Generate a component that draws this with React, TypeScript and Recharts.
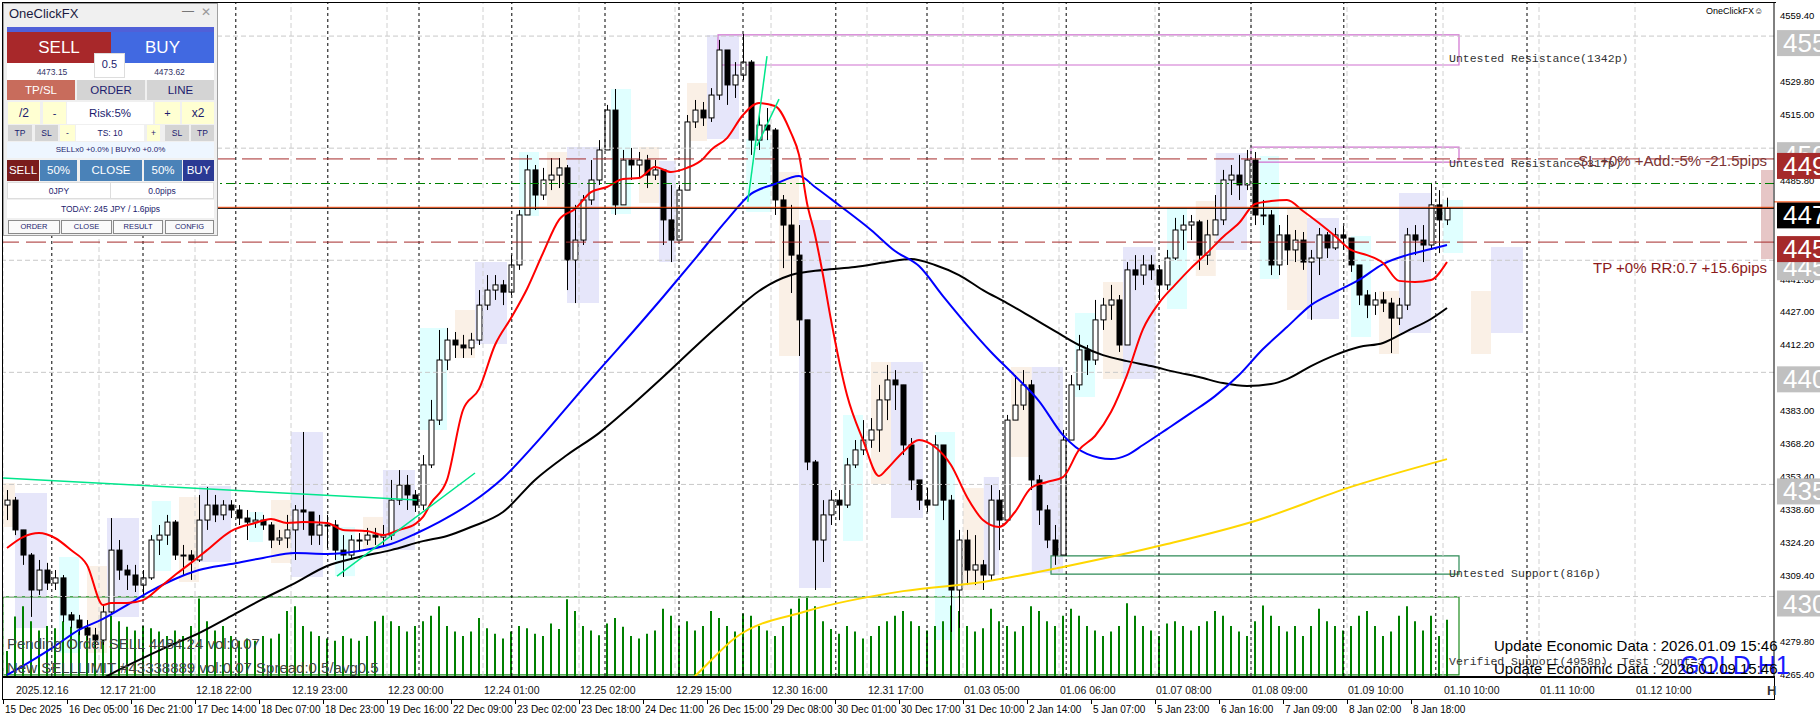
import React from "react";
import {
  ComposedChart,
  Bar,
  Line,
  XAxis,
  YAxis,
  ReferenceLine,
  ReferenceArea,
} from "recharts";

const FONT = "'Liberation Sans', Arial, sans-serif";
const MONO = "'Liberation Mono', 'Courier New', monospace";

// GOLD H1, one slot here = 2 hours. open of a slot = close of the one before
const firstOpen = 4340.8;
const closes = [
  4343.0, 4329.7, 4318.5, 4302.9, 4311.8, 4306.0, 4308.3, 4291.8, 4289.5, 4286.0,
  4282.8, 4280.6, 4293.1, 4320.7, 4311.8, 4309.6, 4305.1, 4308.3, 4325.2, 4327.4,
  4333.2, 4318.5, 4318.5, 4316.3, 4334.1, 4340.8, 4336.4, 4340.8, 4338.6, 4335.0,
  4333.2, 4334.1, 4331.9, 4325.2, 4326.1, 4329.7, 4338.6, 4337.7, 4327.4, 4331.9,
  4331.9, 4320.7, 4318.5, 4325.2, 4325.2, 4327.4, 4326.5, 4327.4, 4343.0, 4349.7,
  4345.3, 4340.8, 4358.7, 4378.7, 4405.5, 4414.4, 4412.2, 4410.9, 4414.4, 4430.0,
  4436.7, 4439.0, 4435.8, 4447.9, 4470.2, 4490.3, 4479.1, 4485.8, 4488.0, 4491.2,
  4450.1, 4459.0, 4476.9, 4485.8, 4499.2, 4517.0, 4474.7, 4494.7, 4492.5, 4494.7,
  4488.0, 4490.3, 4468.0, 4459.0, 4481.3, 4511.7, 4517.0, 4513.5, 4523.7, 4543.8,
  4528.2, 4532.6, 4538.4, 4503.6, 4510.3, 4508.1, 4476.9, 4465.7, 4452.3, 4423.4,
  4360.0, 4325.2, 4336.4, 4343.0, 4340.8, 4358.7, 4365.4, 4369.8, 4374.3, 4387.7,
  4396.6, 4394.4, 4367.6, 4352.0, 4343.0, 4340.8, 4367.6, 4343.0, 4302.9, 4325.2,
  4311.8, 4314.1, 4309.6, 4343.0, 4334.1, 4378.7, 4385.4, 4394.4, 4352.0, 4338.6,
  4325.2, 4318.5, 4369.8, 4394.4, 4410.0, 4405.5, 4423.4, 4430.0, 4432.3, 4412.2,
  4445.7, 4443.4, 4447.9, 4445.7, 4439.0, 4451.0, 4463.5, 4465.7, 4467.1, 4452.3,
  4461.3, 4468.0, 4485.8, 4488.0, 4483.6, 4494.7, 4470.2, 4470.2, 4447.9, 4461.3,
  4454.6, 4459.0, 4449.2, 4451.0, 4461.3, 4455.5, 4461.3, 4459.9, 4447.9, 4434.5,
  4430.0, 4432.3, 4430.9, 4424.2, 4430.0, 4461.3, 4459.0, 4456.8, 4474.7, 4468.0,
  4473.2,
];
const highs = [
  4347.5, 4344.4, 4327.4, 4319.4, 4316.3, 4315.0, 4311.8, 4309.6, 4293.1, 4291.8,
  4289.5, 4286.0, 4296.2, 4335.0, 4325.2, 4314.1, 4314.1, 4311.8, 4327.4, 4331.9,
  4336.4, 4334.1, 4323.0, 4320.7, 4345.3, 4348.9, 4345.3, 4343.0, 4343.0, 4340.8,
  4338.6, 4337.7, 4336.4, 4333.2, 4329.7, 4336.4, 4340.8, 4373.4, 4336.4, 4336.4,
  4336.4, 4334.1, 4327.4, 4327.4, 4328.3, 4330.6, 4330.6, 4331.9, 4352.0, 4356.4,
  4354.2, 4347.5, 4363.1, 4387.7, 4418.9, 4419.8, 4418.0, 4416.7, 4417.6, 4436.7,
  4443.4, 4443.4, 4441.2, 4452.3, 4472.4, 4497.0, 4492.5, 4491.2, 4495.6, 4495.6,
  4492.5, 4474.7, 4479.1, 4494.7, 4503.6, 4519.3, 4526.4, 4499.2, 4500.1, 4498.3,
  4497.0, 4494.7, 4490.3, 4483.6, 4483.6, 4514.8, 4521.5, 4520.6, 4526.8, 4548.3,
  4540.2, 4538.4, 4550.9, 4539.3, 4516.1, 4517.9, 4509.0, 4479.1, 4474.7, 4465.7,
  4423.4, 4360.9, 4343.0, 4347.5, 4347.5, 4361.8, 4369.8, 4378.7, 4379.6, 4394.4,
  4403.3, 4401.0, 4394.4, 4370.7, 4352.0, 4348.4, 4372.0, 4367.6, 4345.3, 4329.7,
  4329.7, 4327.4, 4316.3, 4349.7, 4347.5, 4381.0, 4398.8, 4401.0, 4396.6, 4354.2,
  4340.8, 4331.9, 4374.3, 4398.8, 4416.7, 4412.2, 4432.3, 4433.2, 4439.0, 4434.5,
  4449.2, 4452.3, 4452.3, 4452.3, 4447.9, 4454.6, 4468.9, 4470.2, 4470.2, 4468.0,
  4468.0, 4479.1, 4490.3, 4492.5, 4497.0, 4499.2, 4498.3, 4476.9, 4472.4, 4465.7,
  4470.2, 4463.5, 4462.6, 4454.6, 4464.4, 4462.6, 4464.4, 4465.3, 4459.0, 4447.9,
  4436.7, 4435.8, 4435.8, 4433.2, 4433.2, 4464.4, 4465.7, 4465.7, 4484.5, 4481.3,
  4477.9,
];
const lows = [
  4334.1, 4327.4, 4314.1, 4290.9, 4300.7, 4302.9, 4302.9, 4288.6, 4286.0, 4282.8,
  4280.6, 4277.0, 4278.4, 4291.8, 4307.4, 4302.9, 4302.0, 4300.7, 4307.4, 4318.5,
  4323.0, 4316.3, 4309.6, 4307.4, 4315.4, 4329.7, 4333.2, 4334.1, 4335.0, 4331.9,
  4325.2, 4330.6, 4329.7, 4321.6, 4323.0, 4321.6, 4316.3, 4329.7, 4323.0, 4323.0,
  4321.6, 4316.3, 4308.7, 4316.3, 4320.7, 4323.0, 4323.0, 4323.0, 4325.2, 4340.8,
  4338.6, 4337.7, 4338.6, 4357.3, 4376.5, 4401.0, 4406.4, 4406.4, 4407.7, 4412.2,
  4427.8, 4432.3, 4430.0, 4434.5, 4445.7, 4470.2, 4472.4, 4476.9, 4481.3, 4482.2,
  4436.7, 4430.9, 4456.8, 4474.7, 4483.6, 4499.2, 4470.2, 4474.7, 4485.8, 4486.7,
  4482.2, 4485.8, 4456.8, 4449.2, 4459.0, 4481.3, 4509.0, 4509.9, 4511.7, 4521.5,
  4519.3, 4522.4, 4530.4, 4497.0, 4499.2, 4503.6, 4470.2, 4446.5, 4435.4, 4407.3,
  4356.4, 4302.9, 4315.4, 4331.9, 4334.1, 4339.5, 4357.3, 4363.1, 4366.3, 4364.5,
  4378.7, 4383.2, 4363.1, 4347.5, 4338.6, 4337.7, 4343.0, 4334.1, 4284.2, 4286.0,
  4305.1, 4305.1, 4302.9, 4307.4, 4320.7, 4334.1, 4378.7, 4383.2, 4347.5, 4331.9,
  4321.6, 4314.1, 4318.5, 4369.8, 4392.1, 4398.8, 4403.3, 4418.9, 4423.4, 4409.1,
  4412.2, 4436.7, 4439.0, 4441.2, 4432.3, 4436.7, 4450.1, 4454.6, 4459.0, 4445.7,
  4447.9, 4461.3, 4465.7, 4479.1, 4476.9, 4481.3, 4465.7, 4465.7, 4443.4, 4443.4,
  4447.9, 4449.2, 4445.7, 4423.4, 4443.4, 4451.0, 4454.6, 4454.6, 4444.8, 4430.0,
  4424.2, 4425.6, 4426.9, 4408.6, 4421.1, 4427.8, 4452.3, 4449.2, 4454.6, 4453.2,
  4465.7,
];
// tick volume per slot
const volumes = [
  3200, 7600, 8900, 7000, 5800, 6400, 6100, 7000, 6300, 5700,
  5100, 4500, 6400, 7700, 7000, 6300, 5800, 6400, 6100, 5700,
  5100, 5800, 5100, 6400, 9900, 7000, 5800, 6400, 5100, 4500,
  4800, 4500, 5100, 4800, 5400, 8300, 8900, 6400, 5700, 5100,
  4800, 4500, 5100, 4800, 4500, 5100, 7000, 7700, 7000, 6400,
  5700, 6400, 7000, 7700, 8900, 6400, 5700, 5100, 5700, 7400,
  6100, 5400, 4800, 5700, 6400, 6100, 5400, 5100, 6700, 6000,
  9800, 8300, 6400, 5800, 5200, 6700, 7400, 6300, 5100, 4800,
  5400, 5800, 8600, 7700, 6400, 7000, 5800, 6400, 8300, 7400,
  6400, 5700, 8000, 7700, 6400, 5800, 5100, 6400, 8600, 9900,
  10000, 8900, 7000, 6000, 5400, 6400, 5700, 4800, 5100, 6400,
  7000, 7700, 8300, 7000, 6400, 5800, 6400, 7000, 9000, 8300,
  6400, 5700, 6100, 8600, 7000, 6400, 5700, 6400, 8900, 8300,
  7000, 6400, 7700, 8600, 7700, 6400, 5800, 5100, 5700, 6400,
  9300, 7700, 6400, 5800, 5100, 6700, 7000, 6400, 5800, 6400,
  7000, 8300, 7700, 6400, 5700, 5100, 7000, 9000, 7700, 6400,
  5700, 6400, 5100, 6400, 8600, 7000, 6400, 5800, 6400, 7700,
  8300, 6400, 5100, 5700, 7700, 8900, 7000, 5800, 7700, 5100,
  7200,
];

// moving averages: [slot, price]
const maRed = [
  [0, 4321.6], [2, 4326.5], [4, 4328.3], [6, 4326.1], [8, 4320.7], [10, 4314.1],
  [12, 4296.2], [13, 4297.1], [15, 4297.1], [17, 4298.4], [19, 4303.8], [21, 4309.6],
  [23, 4315.0], [25, 4320.7], [28, 4329.2], [31, 4332.8], [33, 4334.6], [35, 4332.8],
  [37, 4333.2], [40, 4332.8], [42, 4329.7], [45, 4329.2], [47, 4327.4], [49, 4329.7],
  [51, 4332.3], [52, 4335.5], [53, 4341.7], [55, 4352.0], [57, 4383.2], [59, 4392.5],
  [61, 4412.2], [63, 4424.2], [65, 4437.2], [67, 4453.2], [69, 4468.0], [71, 4472.9],
  [73, 4480.4], [75, 4482.7], [77, 4486.2], [79, 4486.7], [81, 4491.6], [83, 4489.4],
  [85, 4491.2], [87, 4495.2], [88, 4499.2], [90, 4504.5], [92, 4514.8], [94, 4520.1],
  [96, 4518.8], [98, 4506.8], [99, 4497.0], [100, 4475.5], [101, 4461.3], [102, 4443.4],
  [103, 4423.4], [105, 4389.9], [107, 4369.8], [109, 4353.8], [110, 4356.9], [112, 4364.5],
  [114, 4369.8], [116, 4366.7], [118, 4358.7], [120, 4344.4], [122, 4334.1], [124, 4331.0],
  [126, 4337.7], [128, 4348.4], [130, 4351.1], [132, 4353.3], [134, 4365.4], [136, 4371.6],
  [138, 4382.3], [140, 4398.8], [142, 4419.3], [144, 4430.9], [146, 4439.0], [148, 4446.5],
  [150, 4453.2], [152, 4460.4], [154, 4466.6], [156, 4475.1], [158, 4476.4], [160, 4476.9],
  [162, 4472.0], [164, 4466.6], [166, 4460.8], [168, 4454.6], [170, 4452.3], [172, 4448.8],
  [174, 4440.8], [176, 4440.3], [178, 4441.2], [180, 4449.2],
];
const maBlue = [
  [0, 4265.0], [3, 4271.2], [6, 4277.9], [9, 4285.1], [12, 4290.0], [15, 4296.2],
  [18, 4302.5], [21, 4307.8], [24, 4311.8], [28, 4314.5], [32, 4317.2], [36, 4319.4],
  [40, 4319.0], [44, 4320.3], [48, 4323.4], [51, 4327.9], [54, 4333.2], [58, 4341.7],
  [62, 4352.9], [66, 4368.0], [70, 4384.5], [74, 4401.0], [78, 4417.1], [82, 4433.6],
  [86, 4450.6], [90, 4468.0], [93, 4479.6], [96, 4484.0], [99, 4487.6], [101, 4482.7],
  [104, 4474.6], [108, 4463.5], [111, 4454.1], [114, 4447.4], [117, 4434.0], [120, 4421.1],
  [123, 4409.1], [126, 4398.4], [129, 4387.2], [132, 4372.0], [135, 4363.6], [138, 4361.3],
  [140, 4363.1], [142, 4367.6], [145, 4374.7], [148, 4381.9], [151, 4389.4], [154, 4398.8],
  [157, 4410.4], [160, 4420.2], [163, 4430.0], [166, 4435.8], [169, 4441.2], [172, 4448.3],
  [175, 4452.3], [178, 4455.0], [180, 4456.8],
];
const maBlack = [
  [12, 4263.6], [16, 4270.8], [20, 4277.5], [24, 4283.7], [28, 4291.3], [32, 4298.9],
  [36, 4306.0], [40, 4313.6], [44, 4317.6], [48, 4320.7], [52, 4324.7], [55, 4327.0],
  [58, 4331.0], [62, 4337.7], [66, 4352.0], [70, 4363.1], [74, 4372.9], [78, 4385.0],
  [82, 4397.9], [86, 4411.3], [90, 4424.2], [94, 4436.3], [98, 4443.4], [102, 4445.7],
  [106, 4447.0], [110, 4449.2], [113, 4450.6], [116, 4447.9], [119, 4443.4], [122, 4436.7],
  [125, 4430.9], [128, 4424.7], [131, 4418.4], [134, 4412.2], [137, 4407.7], [140, 4405.0],
  [143, 4402.8], [146, 4400.2], [149, 4397.9], [152, 4395.2], [155, 4393.9], [158, 4394.8],
  [160, 4397.0], [163, 4402.8], [166, 4407.7], [169, 4411.3], [172, 4413.1], [175, 4418.4],
  [178, 4423.8], [180, 4428.7],
];
const maYellow = [
  [84, 4258.3], [86, 4264.5], [91, 4281.5], [100, 4293.5], [112, 4302.4], [122, 4306.5],
  [132, 4313.2], [145, 4323.4], [156, 4333.7], [168, 4348.9], [180, 4361.3],
];

const priceTicks = [
  4559.4, 4544.6, 4529.8, 4515.0, 4500.2, 4485.8, 4471.0, 4456.2, 4441.6, 4427.0, 4412.2,
  4397.4, 4383.0, 4368.2, 4353.4, 4338.6, 4324.2, 4309.4, 4294.6, 4279.8, 4265.4,
];
const roundLevels = [4550, 4500, 4450, 4400, 4350, 4300];
const bottomLabels = [
  "15 Dec 2025", "16 Dec 05:00", "16 Dec 21:00", "17 Dec 14:00", "18 Dec 07:00",
  "18 Dec 23:00", "19 Dec 16:00", "22 Dec 09:00", "23 Dec 02:00", "23 Dec 18:00",
  "24 Dec 11:00", "26 Dec 15:00", "29 Dec 08:00", "30 Dec 01:00", "30 Dec 17:00",
  "31 Dec 10:00", "2 Jan 14:00", "5 Jan 07:00", "5 Jan 23:00", "6 Jan 16:00",
  "7 Jan 09:00", "8 Jan 02:00", "8 Jan 18:00",
];
const topLabels = [
  "2025.12.16", "12.17 21:00", "12.18 22:00", "12.19 23:00", "12.23 00:00", "12.24 01:00",
  "12.25 02:00", "12.29 15:00", "12.30 16:00", "12.31 17:00", "01.03 05:00", "01.06 06:00",
  "01.07 08:00", "01.08 09:00", "01.09 10:00", "01.10 10:00", "01.11 10:00", "01.12 10:00",
];
const daySeparators = [
  5.6, 17.0, 28.6, 40.1, 51.5, 63.1, 74.75, 84.0, 92.0, 103.6, 115.0, 124.5, 132.4,
  144.0, 155.5, 167.1, 178.6, 190.0,
];

// session boxes: [from slot, to slot, high, low, kind]  kind 0 lavender, 1 cyan, 2 linen
const sessions = [
  [-0.5, 1.0, 4350.6, 4331.0, 2], [1.0, 5.0, 4346.2, 4286.0, 0], [6.5, 9.0, 4317.6, 4274.8, 1],
  [10.0, 12.5, 4313.6, 4274.8, 2], [12.5, 16.5, 4335.0, 4290.9, 0], [18.1, 20.5, 4342.6, 4311.4, 1],
  [21.5, 24.0, 4344.4, 4306.5, 2], [24.0, 28.0, 4349.3, 4315.4, 0], [30.25, 32.0, 4337.7, 4324.3, 1],
  [33.0, 35.5, 4343.0, 4315.0, 2], [35.5, 39.5, 4373.4, 4308.7, 0], [41.0, 43.5, 4331.0, 4309.1, 1],
  [44.5, 47.0, 4335.5, 4320.7, 2], [47.0, 51.0, 4356.4, 4320.7, 0], [51.6, 55.0, 4419.8, 4374.3, 1],
  [56.0, 58.5, 4427.8, 4406.4, 2], [58.5, 62.5, 4449.2, 4412.6, 0], [64.0, 66.5, 4498.3, 4469.7, 1],
  [67.5, 70.0, 4498.3, 4474.2, 2], [70.0, 74.0, 4500.5, 4430.9, 0], [75.5, 78.0, 4526.4, 4470.6, 1],
  [79.0, 81.5, 4500.5, 4475.5, 2], [81.5, 83.6, 4494.3, 4449.2, 0], [85.0, 87.5, 4529.1, 4503.2, 2],
  [87.5, 91.5, 4550.5, 4504.1, 0], [92.4, 95.5, 4504.1, 4471.5, 1], [96.5, 99.0, 4489.4, 4407.3, 2],
  [99.0, 103.0, 4468.0, 4303.8, 0], [104.5, 107.0, 4381.0, 4324.8, 1], [108.0, 110.5, 4404.6, 4350.2, 2],
  [110.5, 114.5, 4404.6, 4335.0, 0], [116.0, 118.5, 4373.4, 4280.6, 1], [119.5, 122.1, 4348.4, 4302.9, 2],
  [122.1, 124.0, 4353.3, 4309.6, 0], [125.5, 128.1, 4402.4, 4362.2, 2], [128.1, 132.0, 4402.4, 4310.5, 0],
  [133.5, 136.0, 4426.5, 4389.0, 1], [137.0, 139.5, 4440.3, 4397.0, 2], [139.5, 143.6, 4455.9, 4397.0, 0],
  [145.0, 147.5, 4473.8, 4428.3, 1], [148.6, 151.1, 4476.4, 4443.0, 2], [151.1, 155.0, 4497.8, 4454.6, 0],
  [156.6, 159.0, 4496.5, 4441.6, 1], [160.0, 162.5, 4472.9, 4427.8, 2], [162.5, 166.5, 4468.9, 4423.8, 0],
  [168.0, 170.5, 4460.8, 4415.8, 1], [171.5, 174.0, 4436.3, 4408.2, 2], [174.0, 178.0, 4480.0, 4417.6, 0],
  [179.5, 182.0, 4476.9, 4453.2, 1], [183.0, 185.5, 4436.3, 4408.2, 2], [185.5, 189.5, 4455.9, 4417.6, 0],
];
const sessionFill = ["#E6E6FA", "#E0FFFF", "#FAF0E6"];

// support / resistance zones: [from, to, top, bottom, label]
const zones = [
  [88.875, 181.5, 4550.5, 4537.1, "Untested Resistance(1342p)"],
  [155.5, 181.5, 4500.5, 4493.8, "Untested Resistance(317p)"],
  [130.5, 181.5, 4318.1, 4310.0, "Untested Support(816p)"],
  [-0.5, 181.5, 4299.8, 4265.0, "Verified Support(4958p), Test Count=3"],
];
const zoneColor = ["#D070D0", "#D070D0", "#2E8B57", "#1E8C1E"];
const zoneDy = [12, 12, 12, 29];

// hand drawn trend lines: [[slot, price], [slot, price]]
const trendLines = [
  [[-0.5, 4352.9], [51.25, 4343.0]],
  [[41.25, 4309.1], [58.5, 4355.1]],
  [[92.6, 4476.0], [95.0, 4541.1]],
  [[93.75, 4501.0], [96.5, 4521.9]],
];

const bid = 4473.15;
const ask = 4473.62;
const slPrice = 4495.2;
const tpPrice = 4458.1;
const pendingPrice = 4484.24;

const rows = closes.map((c, i) => {
  const o = i === 0 ? firstOpen : closes[i - 1];
  const row: any = {
    i,
    o,
    c,
    h: highs[i],
    l: lows[i],
    range: [Math.min(lows[i], o, c), Math.max(highs[i], o, c)],
    vol: volumes[i],
  };
  return row;
});
const addMa = (arr: number[][], key: string) => arr.forEach(([i, v]) => (rows[i][key] = v));
addMa(maRed, "red");
addMa(maBlue, "blue");
addMa(maBlack, "black");
addMa(maYellow, "yellow");

const xTicks = Array.from(
  new Set([
    ...bottomLabels.map((_, k) => 8 * k - 0.5),
    ...topLabels.map((_, m) => 12 * m - 0.5),
  ])
).sort((a, b) => a - b);

const Candle = (props: any) => {
  const { x, y, width, height, payload } = props;
  if (!payload || payload.range == null) return null;
  const [lo, hi] = payload.range;
  const top = Math.min(y, y + height);
  const bot = Math.max(y, y + height);
  const span = hi - lo || 1;
  const py = (p: number) => top + ((hi - p) / span) * (bot - top);
  const cx = Math.round(x + width / 2) + 0.5;
  const oy = py(payload.o);
  const cy = py(payload.c);
  const up = payload.c >= payload.o;
  return (
    <g>
      <line x1={cx} x2={cx} y1={top} y2={bot} stroke="#000" strokeWidth={1} />
      <rect
        x={cx - 2.5}
        y={Math.min(oy, cy)}
        width={5}
        height={Math.max(1, Math.abs(cy - oy))}
        fill={up ? "#fff" : "#000"}
        stroke="#000"
        strokeWidth={1}
      />
    </g>
  );
};

const DateTick = (props: any) => {
  const { x, y, payload } = props;
  const slot = Math.round(payload.value + 0.5);
  const parts: React.ReactNode[] = [];
  if (slot % 12 === 0 && topLabels[slot / 12]) {
    parts.push(
      <text key="t" x={x + (slot === 0 ? 13 : 1)} y={y + 18} fontSize={10.5} fontFamily={FONT} fill="#111">
        {topLabels[slot / 12]}
      </text>
    );
  }
  if (slot % 8 === 0 && bottomLabels[slot / 8]) {
    parts.push(<line key="m" x1={x + 0.5} x2={x + 0.5} y1={y + 24} y2={y + 28} stroke="#000" />);
    parts.push(
      <text key="b" x={x + 2} y={y + 37} fontSize={10} fontFamily={FONT} fill="#000">
        {bottomLabels[slot / 8]}
      </text>
    );
  }
  return <g>{parts}</g>;
};

// price scale text, drawn as a label so the tags below can cover it
const priceText = (txt: string) => (p: any) => {
  const vb = p.viewBox;
  return (
    <text x={vb.x + vb.width + 6} y={vb.y + 3.5} fontSize={9.5} fontFamily={FONT} fill="#000">
      {txt}
    </text>
  );
};

// price tag on the right scale, plus an optional note at the right end of the line
const lineTag =
  (price: string, bg: string, note?: string, noteDy = 0, noteColor = "#000", topLine?: string) =>
  (p: any) => {
    const vb = p.viewBox;
    const right = vb.x + vb.width;
    const top = vb.y - 6;
    return (
      <g>
        {note && (
          <text x={right - 7} y={vb.y + noteDy} textAnchor="end" fontSize={15} fontFamily={FONT} fill={noteColor}>
            {note}
          </text>
        )}
        <rect x={right + 3} y={top} width={50} height={26} fill={bg} />
        {topLine && <line x1={right} x2={right + 60} y1={top - 0.5} y2={top - 0.5} stroke={topLine} />}
        <text x={right + 9} y={top + 22} fontSize={26} fontFamily={FONT} fill="#fff">
          {price}
        </text>
      </g>
    );
  };

const zoneText = (text: string, dy: number) => (p: any) => {
  const vb = p.viewBox;
  return (
    <text x={vb.x + vb.width - 10} y={vb.y + vb.height / 2 + dy} fontFamily={MONO} fontSize={11.5} fill="#333">
      {text}
    </text>
  );
};

type BoxProps = {
  x: number; y: number; w: number; h: number; bg: string;
  fg?: string; fs?: number; text?: string; bd?: string; lh?: number;
};
const Box = ({ x, y, w, h, bg, fg = "#1c1c6e", fs = 11, text, bd, lh }: BoxProps) => (
  <div
    style={{
      position: "absolute", left: x, top: y, width: w, height: h, background: bg, color: fg,
      fontSize: fs, lineHeight: `${lh ?? h}px`, textAlign: "center", border: bd,
      boxSizing: "border-box", whiteSpace: "nowrap", overflow: "hidden",
    }}
  >
    {text}
  </div>
);

const GREY = "#D4D4D4";
const CREAM = "#FFFFD2";
const STEEL = "#4A82B8";

const TradePanel = () => (
  <div style={{ position: "absolute", left: 0, top: 0, fontFamily: FONT }}>
    <div style={{ position: "absolute", left: 3, top: 3, width: 215, height: 233, background: "#F0F0F0", border: "1px solid #A0A0A0", boxSizing: "border-box" }} />
    <div style={{ position: "absolute", left: 9, top: 6, fontSize: 13, color: "#1a1a40" }}>OneClickFX</div>
    <div style={{ position: "absolute", left: 182, top: 4, fontSize: 12, color: "#777" }}>—</div>
    <div style={{ position: "absolute", left: 201, top: 5, fontSize: 12, color: "#999" }}>✕</div>
    <Box x={7} y={27} w={207} h={6} bg="#5060D8" />
    <Box x={7} y={32} w={104} h={31} bg="#A8282A" fg="#fff" fs={17} text="SELL" />
    <Box x={111} y={32} w={103} h={31} bg="#4169E1" fg="#fff" fs={17} text="BUY" />
    <Box x={7} y={63} w={207} h={17} bg="#fff" />
    <Box x={7} y={65} w={90} h={14} bg="transparent" fg="#333366" fs={8.5} text="4473.15" />
    <Box x={125} y={65} w={89} h={14} bg="transparent" fg="#333366" fs={8.5} text="4473.62" />
    <Box x={94} y={53} w={31} h={25} bg="#fff" bd="1px solid #ddd" fs={11} lh={21} text="0.5" />
    <Box x={7} y={80} w={68} h={20} bg="#C86C5C" fg="#fff" fs={11.5} text="TP/SL" />
    <Box x={77} y={80} w={68} h={20} bg={GREY} fs={11.5} text="ORDER" />
    <Box x={147} y={80} w={67} h={20} bg={GREY} fs={11.5} text="LINE" />
    <Box x={8} y={102} w={32} h={22} bg={CREAM} fs={12} text="/2" />
    <Box x={43} y={102} w={23} h={22} bg={CREAM} fs={11} text="-" />
    <Box x={67} y={102} w={86} h={22} bg="#fff" fs={11.5} text="Risk:5%" />
    <Box x={155} y={102} w={25} h={22} bg={CREAM} fs={11} text="+" />
    <Box x={182} y={102} w={32} h={22} bg={CREAM} fs={12} text="x2" />
    <Box x={8} y={125} w={24} h={16} bg={GREY} fs={8.5} text="TP" />
    <Box x={35} y={125} w={23} h={16} bg={GREY} fs={8.5} text="SL" />
    <Box x={60} y={125} w={15} h={16} bg={CREAM} fs={8.5} text="-" />
    <Box x={76} y={125} w={68} h={16} bg="#fff" fs={8.5} text="TS: 10" />
    <Box x={147} y={125} w={13} h={16} bg={CREAM} fs={8.5} text="+" />
    <Box x={165} y={125} w={24} h={16} bg={GREY} fs={8.5} text="SL" />
    <Box x={191} y={125} w={23} h={16} bg={GREY} fs={8.5} text="TP" />
    <Box x={7} y={142} w={207} h={16} bg="#EEF6FF" fs={8} text="SELLx0 +0.0% | BUYx0 +0.0%" />
    <Box x={7} y={160} w={32} h={21} bg="#7A1C1C" fg="#fff" fs={11.5} text="SELL" />
    <Box x={40} y={160} w={37} h={21} bg={STEEL} fg="#fff" fs={11.5} text="50%" />
    <Box x={80} y={160} w={62} h={21} bg={STEEL} fg="#fff" fs={11.5} text="CLOSE" />
    <Box x={144} y={160} w={38} h={21} bg={STEEL} fg="#fff" fs={11.5} text="50%" />
    <Box x={183} y={160} w={31} h={21} bg="#2B3A94" fg="#fff" fs={11.5} text="BUY" />
    <Box x={7} y={182} w={104} h={17} bg="#fff" bd="1px solid #ddd" fs={8.5} text="0JPY" />
    <Box x={110} y={182} w={104} h={17} bg="#fff" bd="1px solid #ddd" fs={8.5} text="0.0pips" />
    <Box x={7} y={200} w={207} h={18} bg="#fff" fs={8.5} text="TODAY: 245 JPY / 1.6pips" />
    <Box x={8} y={220} w={52} h={14} bg="#FAFAFA" bd="1px solid #8a8a8a" fs={7.5} lh={12} text="ORDER" />
    <Box x={61} y={220} w={51} h={14} bg="#FAFAFA" bd="1px solid #8a8a8a" fs={7.5} lh={12} text="CLOSE" />
    <Box x={113} y={220} w={50} h={14} bg="#FAFAFA" bd="1px solid #8a8a8a" fs={7.5} lh={12} text="RESULT" />
    <Box x={165} y={220} w={49} h={14} bg="#FAFAFA" bd="1px solid #8a8a8a" fs={7.5} lh={12} text="CONFIG" />
  </div>
);

const overlayText = (left: number, top: number, text: string, size: number, color: string, family = FONT) => (
  <div style={{ position: "absolute", left, top, fontSize: size, color, fontFamily: family, whiteSpace: "nowrap", lineHeight: 1 }}>
    {text}
  </div>
);

export default function App() {
  const xDomain = [-0.5, 220.875];
  return (
    <div style={{ position: "absolute", left: 0, top: 0, width: 1820, height: 720, overflow: "hidden", background: "#fff", fontFamily: FONT }}>
      <ComposedChart width={1820} height={720} data={rows} margin={{ top: 3, right: 0, bottom: 0, left: 3 }}>
        <XAxis
          type="number"
          dataKey="i"
          domain={xDomain}
          allowDataOverflow
          ticks={xTicks}
          interval={0}
          tick={(p: any) => <DateTick {...p} />}
          tickLine={false}
          axisLine={false}
          tickSize={0}
          tickMargin={0}
          height={44}
        />
        <XAxis xAxisId="v" type="number" dataKey="i" domain={xDomain} allowDataOverflow hide />
        <YAxis
          orientation="right"
          domain={[4264.54, 4564.76]}
          allowDataOverflow
          ticks={priceTicks}
          interval={0}
          width={46}
          tickSize={4}
          axisLine={{ stroke: "#000" }}
          tickLine={{ stroke: "#000" }}
          tick={false}
        />
        <YAxis yAxisId="vol" hide domain={[0, 86000]} />

        {sessions.map(([a, b, hi, lo, k], n) => (
          <ReferenceArea key={`s${n}`} x1={a} x2={b} y1={lo} y2={hi} fill={sessionFill[k]} fillOpacity={1} stroke="none" ifOverflow="hidden" />
        ))}
        <ReferenceArea x1={219.25} x2={220.75} y1={4450.6} y2={4490.3} fill="#E6C6C6" fillOpacity={1} stroke="none" />

        {xTicks
          .filter((v) => Math.round(v + 0.5) % 12 === 0)
          .map((v) => (
            <ReferenceLine key={`gv${v}`} x={v} stroke="#D0D0D0" strokeDasharray="5 3" />
          ))}
        {daySeparators.map((v) => (
          <ReferenceLine key={`d${v}`} x={v} stroke="#000" strokeDasharray="3 3" />
        ))}
        {priceTicks.map((t) => (
          <ReferenceLine key={`pt${t}`} y={t} stroke="none" label={priceText(t.toFixed(2))} />
        ))}
        {roundLevels.map((lv) => (
          <ReferenceLine key={`r${lv}`} y={lv} stroke="#C8C8C8" strokeDasharray="5 3" label={lineTag(lv.toFixed(2), "#C0C0C0")} />
        ))}

        {zones.map(([a, b, hi, lo, text], n) => (
          <ReferenceArea
            key={`z${n}`}
            x1={a}
            x2={b}
            y1={lo}
            y2={hi}
            fill="none"
            stroke={zoneColor[n]}
            strokeWidth={1.2}
            ifOverflow="visible"
            label={zoneText(text as string, zoneDy[n])}
          />
        ))}

        <Bar xAxisId="v" yAxisId="vol" dataKey="vol" fill="#008000" barSize={2} isAnimationActive={false} />
        <Bar dataKey="range" barSize={8} shape={(p: any) => <Candle {...p} />} isAnimationActive={false} />

        <Line dataKey="yellow" stroke="#FFD700" strokeWidth={2} dot={false} activeDot={false} connectNulls type="monotone" isAnimationActive={false} />
        <Line dataKey="black" stroke="#000" strokeWidth={2} dot={false} activeDot={false} connectNulls type="monotone" isAnimationActive={false} />
        <Line dataKey="blue" stroke="#0000FF" strokeWidth={2} dot={false} activeDot={false} connectNulls type="monotone" isAnimationActive={false} />
        <Line dataKey="red" stroke="#FF0000" strokeWidth={2} dot={false} activeDot={false} connectNulls type="monotone" isAnimationActive={false} />

        {trendLines.map(([p1, p2], n) => (
          <ReferenceLine
            key={`t${n}`}
            segment={[{ x: p1[0], y: p1[1] }, { x: p2[0], y: p2[1] }]}
            stroke="#00E68C"
            strokeWidth={1.5}
            ifOverflow="visible"
          />
        ))}

        <ReferenceLine y={pendingPrice} stroke="#008000" strokeDasharray="9 4 2 4" />
        <ReferenceLine
          y={slPrice}
          stroke="#A52A2A"
          strokeDasharray="20 7"
          label={lineTag(slPrice.toFixed(2), "#A52A2A", "SL +0% +Add:-5% -21.5pips", 7, "#7B3535")}
        />
        <ReferenceLine
          y={tpPrice}
          stroke="#A52A2A"
          strokeDasharray="20 7"
          label={lineTag(tpPrice.toFixed(2), "#A52A2A", "TP +0% RR:0.7 +15.6pips", 31, "#8B1A1A")}
        />
        <ReferenceLine y={ask} stroke="#FF4500" />
        <ReferenceLine y={bid} stroke="#000" label={lineTag(bid.toFixed(2), "#000", undefined, 0, "#000", "#FF4500")} />
      </ComposedChart>

      <div style={{ position: "absolute", left: 2, top: 2, width: 1773, height: 675, borderTop: "1px solid #000", borderLeft: "1px solid #000", pointerEvents: "none" }} />
      <div style={{ position: "absolute", left: 2, top: 676, width: 1773, height: 24, border: "1px solid #000", borderTopWidth: 2, boxSizing: "border-box" }} />
      <div style={{ position: "absolute", left: 1767, top: 683, fontSize: 13, fontWeight: 700, color: "#333" }}>H</div>

      {overlayText(1706, 7, "OneClickFX☺", 9, "#000")}
      {overlayText(7, 636, "Pending Order SELL 4484.24 vol:0.07", 15, "#444")}
      {overlayText(7, 660, "New SELLLIMIT #43338889 vol:0.07 Spread:0.5/avg0.5", 15, "#444")}
      {overlayText(1680, 653, "GOLD H1", 25, "#1a1aff")}
      {overlayText(1494, 638, "Update Economic Data : 2026.01.09 15:46", 15, "#000")}
      {overlayText(1494, 661, "Update Economic Data : 2026.01.09 15:46", 15, "#000")}

      <TradePanel />
    </div>
  );
}
